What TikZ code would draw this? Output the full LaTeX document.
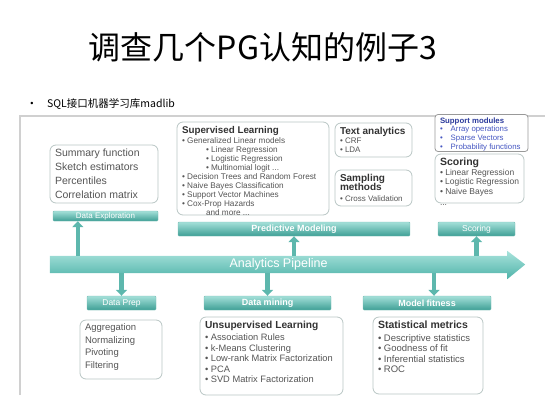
\documentclass[tikz,border=0pt]{standalone}
\usepackage{fontspec}
\setmainfont{Liberation Sans}
\newfontfamily\cjk{Noto Sans CJK SC}
\usetikzlibrary{arrows.meta,calc,backgrounds}
\definecolor{teallight}{HTML}{A4E0D9}
\definecolor{tealdark}{HTML}{3E9F95}
\definecolor{tealmid}{HTML}{5DB7AD}
\definecolor{pipetop}{HTML}{A9E3DC}
\definecolor{pipebot}{HTML}{4FB3A9}
\definecolor{panelline}{HTML}{B9C6C4}
\definecolor{paneltext}{HTML}{555555}
\definecolor{darktext}{HTML}{333333}
\definecolor{framegray}{HTML}{D0D0D0}
\definecolor{navy}{HTML}{2B3A9C}
\definecolor{modblue}{HTML}{4657C2}
\newcommand{\hd}[2]{{\fontsize{#1}{9}\selectfont\bfseries\color{darktext}#2}}
\newcommand{\ptext}[3]{\begin{minipage}[c][#1][t]{#2}#3\end{minipage}}
\tikzset{
  panel/.style={draw=panelline, line width=0.8pt, rounded corners=6pt, fill=white, inner xsep=5pt, inner ysep=4pt, text=paneltext},
  bar/.style={top color=teallight, bottom color=tealdark, draw=tealdark!70, rounded corners=1pt, inner sep=0pt, text=white, minimum height=14pt},
  blockarrow/.style={line width=4.5pt, draw=tealmid, -{Triangle[width=11pt,length=6pt]}},
}

\begin{document}
\begin{tikzpicture}[x=1pt,y=-1pt]
  \useasboundingbox (0,0) rectangle (553,415);
  % ------------------------------------------------------------ heading
  \node (title) at (263,47) {\cjk\fontsize{32}{36}\selectfont 调查几个PG认知的例子3};
  \node (dot) at (32,104) {\fontsize{9}{10}\selectfont •};
  \node[anchor=west, inner sep=0pt] (sub) at (47,104) {\cjk\fontsize{10.5}{12}\selectfont SQL接口机器学习库madlib};
  \draw[framegray, line width=1.5pt] (20,395) -- (20,116) -- (545,116);
  % ------------------------------------------------------------ pipeline
  \node[minimum width=457pt, minimum height=17pt, inner sep=0pt, text=white, font=\fontsize{12.5}{14}\selectfont] (pipe) at (278.5,264.5) {Analytics Pipeline};
  \begin{scope}[on background layer]
    \shade[top color=pipetop, bottom color=pipebot] (pipe.north west) -- (pipe.north east) -- ++(0,-5) -- ($(pipe.east)+(18,0)$) -- ($(pipe.south east)+(0,6)$) -- (pipe.south east) -- (pipe.south west) -- cycle;
  \end{scope}
  % ------------------------------------------------------------ upper panels
  \node[panel] (dexbox) at (104,174) {\ptext{50pt}{98pt}{\fontsize{10.5}{14}\selectfont
    Summary function\\ Sketch estimators\\ Percentiles\\ Correlation matrix}};
  \node[panel] (supbox) at (253,168.5) {\ptext{85pt}{142pt}{\fontsize{8.2}{9}\selectfont
    \hd{9.8}{Supervised Learning}\\[1pt]
    • Generalized Linear models\\
    \hspace*{24pt}• Linear Regression\\
    \hspace*{24pt}• Logistic Regression\\
    \hspace*{24pt}• Multinomial logit ...\\
    • Decision Trees and Random Forest\\
    • Naive Bayes Classification\\
    • Support Vector Machines\\
    • Cox-Prop Hazards\\
    \hspace*{24pt}and more ...}};
  \node[panel] (txtbox) at (373.5,140) {\ptext{26pt}{67pt}{\fontsize{8}{9}\selectfont
    \hd{10}{Text analytics}\\ • CRF\\ • LDA}};
  \node[panel] (sampbox) at (373.5,188) {\ptext{28pt}{67pt}{\fontsize{8}{9.5}\selectfont
    \hd{10}{Sampling}\\ \hd{10}{methods}\\[1pt] • Cross Validation}};
  \node[panel, draw=gray!80, rounded corners=3pt, inner ysep=3pt] (suppbox) at (481.5,133) {\ptext{31pt}{83pt}{\fontsize{7.8}{8.7}\selectfont\color{modblue}
    {\bfseries\color{navy}Support modules}\\
    •\hspace{8pt}Array operations\\
    •\hspace{8pt}Sparse Vectors\\
    •\hspace{8pt}Probability functions}};
  \node[panel] (scorebox) at (479.5,178.5) {\ptext{41pt}{79pt}{\fontsize{8.5}{9.5}\selectfont
    \hd{10.5}{Scoring}\\ • Linear Regression\\ • Logistic Regression\\ • Naive Bayes\\[2pt] ...}};
  % ------------------------------------------------------------ upper bars
  \node[bar, minimum width=105pt, minimum height=10pt, font=\fontsize{8}{9}\selectfont] (dexbar) at (105.5,216) {Data Exploration};
  \node[bar, minimum width=232pt, font=\fontsize{9}{10}\selectfont\bfseries] (predbar) at (294,229) {Predictive Modeling};
  \node[bar, minimum width=77pt, font=\fontsize{8.5}{10}\selectfont] (scorebar) at (476.5,229) {Scoring};
  % ------------------------------------------------------------ lower bars
  \node[bar, minimum width=69pt, font=\fontsize{8.5}{10}\selectfont] (prepbar) at (121.5,303) {Data Prep};
  \node[bar, minimum width=127pt, font=\fontsize{9}{10}\selectfont\bfseries] (minebar) at (267.5,303) {Data mining};
  \node[bar, minimum width=128pt, font=\fontsize{9}{10}\selectfont\bfseries] (fitbar) at (427,303) {Model fitness};
  % ------------------------------------------------------------ lower panels
  \node[panel] (prepbox) at (121,349.5) {\ptext{51pt}{72pt}{\fontsize{9.5}{12.5}\selectfont
    Aggregation\\ Normalizing\\ Pivoting\\ Filtering}};
  \node[panel] (unsupbox) at (271.5,356) {\ptext{70pt}{133pt}{\fontsize{9.3}{10.5}\selectfont
    \hd{10.2}{Unsupervised Learning}\\[2pt]
    • Association Rules\\
    • k-Means Clustering\\
    • Low-rank Matrix Factorization\\
    • PCA\\
    • SVD Matrix Factorization}};
  \node[panel] (statbox) at (428,355.5) {\ptext{69pt}{100pt}{\fontsize{9.5}{10.5}\selectfont
    \hd{10.5}{Statistical metrics}\\[2pt]
    • Descriptive statistics\\
    • Goodness of fit\\
    • Inferential statistics\\
    • ROC}};
  % ------------------------------------------------------------ arrows
  \coordinate (dexfoot) at ($(dexbar.south west)+(25,0)$);
  \coordinate (fithead) at ($(fitbar.north)+(7,0)$);
  \draw[blockarrow] (pipe.north -| dexfoot) -- (dexfoot);
  \draw[blockarrow] (pipe.north -| predbar.south) -- (predbar.south);
  \draw[blockarrow] (pipe.north -| scorebar.south) -- (scorebar.south);
  \draw[blockarrow] (pipe.south -| prepbar.north) -- (prepbar.north);
  \draw[blockarrow] (pipe.south -| minebar.north) -- (minebar.north);
  \draw[blockarrow] (pipe.south -| fithead) -- (fithead);
\end{tikzpicture}
\end{document}
